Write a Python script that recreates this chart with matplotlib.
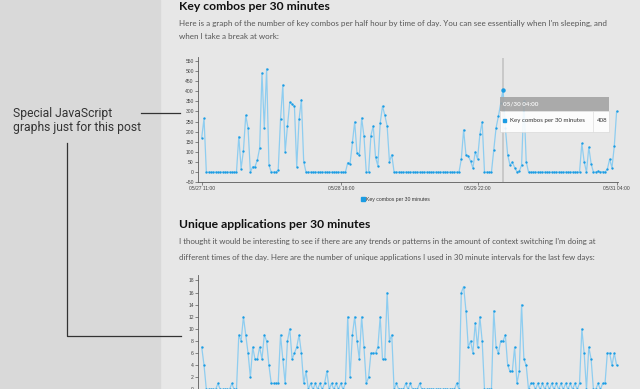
import matplotlib
matplotlib.use("Agg")
import matplotlib.pyplot as plt
from matplotlib.patches import Rectangle

W, H = 640, 389

# key combos per half hour, one value per slot starting 05/27 11:00
key_combos = [170, 265, 0, 0, 0, 0, 0, 0, 0, 0, 0, 0, 0, 0, 0, 0,
              176, 18, 106, 281, 216,
              0, 27, 27, 60, 119, 490, 219, 510, 36, 0, 0, 0, 10, 260, 431,
              100, 228, 346, 336, 325, 27, 260, 358, 52,
              0, 0, 0, 0, 0, 0, 0, 0, 0, 0, 0, 0, 0, 0, 0, 0, 0, 0,
              47, 42, 147, 248, 93, 83, 268, 178, 0, 0, 181, 228, 73, 32,
              242, 326, 281, 228, 52, 86,
              0, 0, 0, 0, 0, 0, 0, 0, 0, 0, 0, 0, 0, 0, 0, 0, 0, 0, 0, 0,
              0, 0, 0, 0, 0, 0, 0, 0, 0,
              65, 209, 86, 81, 54, 21, 100, 65, 186, 248, 0, 0, 0, 0,
              111, 219, 276, 340, 408, 220, 85, 35, 50, 23, 2, 5, 34, 350, 52,
              0, 0, 0, 0, 0, 0, 0, 0, 0, 0, 0, 0, 0, 0, 0, 0, 0, 0, 0, 0,
              0, 0, 0,
              142, 52, 0, 124, 42, 0, 0, 5, 0, 3, 0, 15, 64, 22, 128, 300]

# unique applications per half hour, same slots
unique_apps = [7, 4, 0, 0, 0, 0, 0, 1, 0, 0, 0, 0, 0, 1, 0, 0,
               9, 8, 12, 9, 6, 2, 7, 5, 5, 7, 5, 9, 8, 4, 1, 1, 1, 1,
               9, 5, 1, 8, 10, 5, 6, 7, 9, 6, 1, 3,
               0, 1, 0, 1, 0, 1, 0, 1, 3, 0, 1, 0, 1, 0, 1, 0, 1,
               12, 2, 9, 12, 8, 5, 12, 7, 1, 2, 6, 6, 6, 7, 12, 5, 5, 16, 8, 9,
               0, 1, 0, 0, 0, 1, 0, 1, 0, 0, 0, 1,
               0, 0, 0, 0, 0, 0, 0, 0, 0, 0, 0, 0, 0, 0, 0,
               1, 0, 16, 17, 13, 7, 8, 6, 11, 7, 12, 8, 0, 0, 0, 0,
               13, 7, 6, 8, 8, 9, 4, 3, 3, 7, 1, 3, 14, 5, 4,
               0, 1, 1, 0, 1, 0, 1, 0, 1, 0, 1, 0, 1, 0, 1, 0, 1, 0, 1, 0, 1, 0, 1,
               10, 6, 0, 7, 5, 0, 0, 1, 0, 1, 1, 6, 6, 4, 6, 4]

x_tick_slots = [0, 60, 119, 179]
x_tick_labels = ["05/27 11:00", "05/28 16:00", "05/29 22:00", "05/31 04:00"]
combo_yticks = list(range(-50, 551, 50))
app_yticks = list(range(0, 19, 2))

series_name = "Key combos per 30 minutes"
hover_slot = 130
hover_time = "05/30 04:00"

slots = list(range(len(key_combos)))

line_color = "#8ecdf0"
dot_color = "#1b9ce3"
axis_color = "#5a5a5a"
body_font = "Lato"


def px_axes(left, top, right, bottom):
    # axes rectangle given in pixels measured from the top-left corner
    return [left / W, 1 - bottom / H, (right - left) / W, (bottom - top) / H]


def style_chart(ax, yticks):
    ax.patch.set_visible(False)
    ax.spines["top"].set_visible(False)
    ax.spines["right"].set_visible(False)
    for side in ["left", "bottom"]:
        ax.spines[side].set_color(axis_color)
        ax.spines[side].set_linewidth(0.6)
    ax.set_yticks(yticks)
    ax.set_xticks(x_tick_slots)
    ax.set_xticklabels(x_tick_labels)
    ax.tick_params(length=2, width=0.5, color=axis_color, labelcolor="#444",
                   labelsize=3.6, pad=1)
    for lab in ax.get_xticklabels() + ax.get_yticklabels():
        lab.set_family("Liberation Sans")


fig = plt.figure(figsize=(6.4, 3.89), dpi=100)

# page background: grey sidebar and the lighter content column
bg = fig.add_axes([0, 0, 1, 1], zorder=-5)
bg.set_xlim(0, W)
bg.set_ylim(H, 0)
bg.axis("off")
bg.add_patch(Rectangle((0, 0), W, H, color="#e7e7e7"))
bg.add_patch(Rectangle((0, 0), 160, H, color="#d9d9d9"))

# chart 1: key combos
ax1 = fig.add_axes(px_axes(198, 57.5, 618, 182.3))
ax1.set_xlim(-1.6, 179.6)
ax1.set_ylim(-50, 566)
style_chart(ax1, combo_yticks)
ax1.axvline(hover_slot, color="#c9c9c9", lw=1.4, zorder=1)
ax1.plot(slots, key_combos, color=line_color, lw=0.9, zorder=2)
ax1.plot(slots, key_combos, "o", color=dot_color, ms=1.7, mew=0, zorder=3)
ax1.plot([hover_slot], [key_combos[hover_slot]], "o", color=dot_color, ms=3.2, mew=0, zorder=4)

# chart 2: unique applications (its date axis is below the screenshot)
ax2 = fig.add_axes(px_axes(198, 275, 618, 401.6))
ax2.set_xlim(-1.6, 179.6)
ax2.set_ylim(-2, 18.9)
style_chart(ax2, app_yticks)
ax2.tick_params(axis="x", labelbottom=False)
ax2.plot(slots, unique_apps, color=line_color, lw=0.9, zorder=2)
ax2.plot(slots, unique_apps, "o", color=dot_color, ms=1.7, mew=0, zorder=3)

# overlay in pixel coordinates for the page text, callout and tooltip
ov = fig.add_axes([0, 0, 1, 1], zorder=10)
ov.set_xlim(0, W)
ov.set_ylim(H, 0)
ov.axis("off")

# sidebar callout
ov.text(13.3, 117.3, "Special JavaScript", family="Roboto", fontsize=8.7, color="#333")
ov.text(13.3, 130.7, "graphs just for this post", family="Roboto", fontsize=8.7, color="#333")
ov.plot([140.7, 180], [113.3, 113.3], color="#333", lw=0.9)
ov.plot([66.7, 66.7, 180.7], [143.3, 335.5, 335.5], color="#333", lw=0.9)

# headings and paragraphs
ov.text(179, 10.3, "Key combos per 30 minutes", family=body_font, weight="bold",
        fontsize=8.7, color="#111")
ov.text(179, 26.3, "Here is a graph of the number of key combos per half hour by time of day. "
        "You can see essentially when I'm sleeping, and", family=body_font, fontsize=5.8, color="#555")
ov.text(179, 39.3, "when I take a break at work:", family=body_font, fontsize=5.8, color="#555")

ov.text(179, 228.3, "Unique applications per 30 minutes", family=body_font, weight="bold",
        fontsize=8.7, color="#111")
ov.text(179, 244, "I thought it would be interesting to see if there are any trends or patterns "
        "in the amount of context switching I'm doing at", family=body_font, fontsize=5.7, color="#555")
ov.text(179, 260, "different times of the day. Here are the number of unique applications "
        "I used in 30 minute intervals for the last few days:", family=body_font, fontsize=5.7,
        color="#555")

# legend under chart 1
ov.add_patch(Rectangle((361, 197.3), 3.5, 3.5, color=dot_color))
ov.text(366.5, 199.2, series_name, family="Liberation Sans", fontsize=3.7, color="#333",
        va="center")

# hover tooltip
ov.add_patch(Rectangle((500, 96.7), 109.3, 14.3, fc="#a4a4a4", ec="none", alpha=0.9))
ov.add_patch(Rectangle((500, 111), 109.3, 20.7, fc="white", ec="#d0d0d0", lw=0.4, alpha=0.88))
ov.text(503, 104, hover_time, family=body_font, weight="bold", fontsize=4.6, color="#f4f4f4",
        va="center")
ov.add_patch(Rectangle((502.5, 119), 3.2, 3.2, color=dot_color))
ov.text(510.5, 120.6, series_name, family=body_font, fontsize=4.4, color="#333", va="center")
ov.plot([593.3, 593.3], [111, 131.7], color="#dddddd", lw=0.5)
ov.text(596.5, 120.6, str(key_combos[hover_slot]), family=body_font, fontsize=4.4, color="#333",
        va="center")

fig.savefig("out.png", dpi=100)
